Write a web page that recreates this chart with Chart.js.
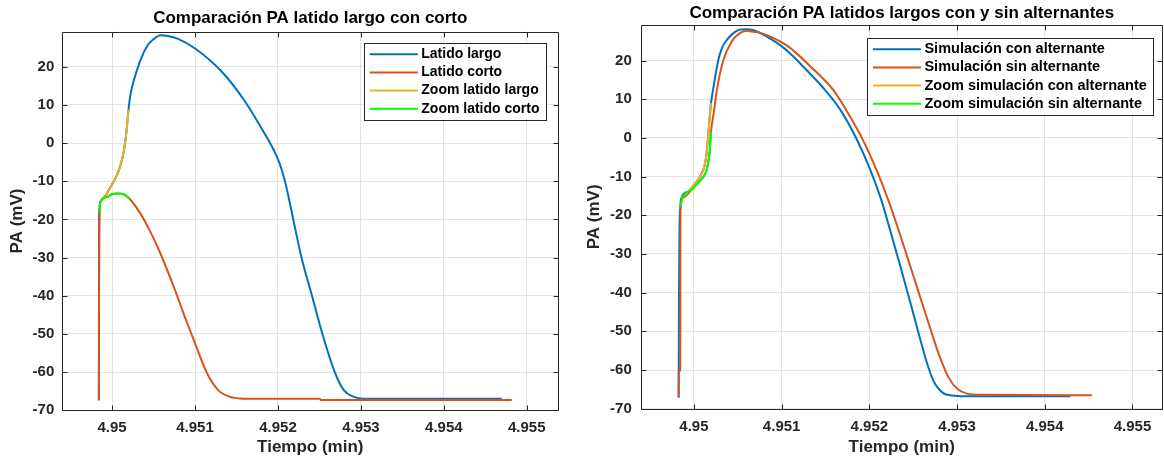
<!DOCTYPE html>
<html>
<head>
<meta charset="utf-8">
<script src="https://cdn.jsdelivr.net/npm/chart.js@4.4.1/dist/chart.umd.min.js"></script>
<style>
  html, body { margin: 0; padding: 0; background: #fff; }
  #panel { position: relative; width: 1164px; height: 459px; overflow: hidden; background: #fff; }
  canvas { position: absolute; top: 0; }
  #graficoIzq { left: 0; }
  #graficoDer { left: 582px; }
</style>
</head>
<body>
<div id="panel">
  <canvas id="graficoIzq" width="582" height="459"></canvas>
  <canvas id="graficoDer" width="582" height="459"></canvas>
</div>
<script>
// ---------- Texto ----------
const tituloIzq = 'Comparación PA latido largo con corto';
const tituloDer = 'Comparación PA latidos largos con y sin alternantes';
const etiquetaX = 'Tiempo (min)';
const etiquetaY = 'PA (mV)';
const leyendaIzq = ['Latido largo', 'Latido corto', 'Zoom latido largo', 'Zoom latido corto'];
const leyendaDer = ['Simulación con alternante', 'Simulación sin alternante',
                    'Zoom simulación con alternante', 'Zoom simulación sin alternante'];

// ---------- Ejes ----------
const ticksTiempo = [4.95, 4.951, 4.952, 4.953, 4.954, 4.955];
const etiquetasTiempo = ['4.95', '4.951', '4.952', '4.953', '4.954', '4.955'];
const ticksPA = [-70, -60, -50, -40, -30, -20, -10, 0, 10, 20];
const etiquetasPA = ['-70', '-60', '-50', '-40', '-30', '-20', '-10', '0', '10', '20'];

// ---------- Latido largo vs corto (tiempo en min, PA en mV) ----------
const tLargo = [4.949841, 4.949843, 4.949846, 4.949859, 4.949924, 4.949984, 4.950033, 4.950074,
  4.950105, 4.950129, 4.950153, 4.950171, 4.950198, 4.950220, 4.950252, 4.950341, 4.950431,
  4.950503, 4.950586, 4.950672, 4.950788, 4.951001, 4.951324, 4.951591, 4.951815, 4.951949,
  4.952023, 4.952096, 4.952156, 4.952204, 4.952283, 4.952417, 4.952529, 4.952685, 4.952796,
  4.952908, 4.952997, 4.953200, 4.954698];
const vLargo = [-67.4, -30, -18, -15.4, -13.6, -11.4, -9.5, -7.6,
  -5.5, -3.5, -0.5, 2.5, 8.8, 12.5, 15.6, 21.7, 25.7,
  27.3, 28.3, 28.1, 27.4, 24.8, 18.7, 11.3, 3.4, -1.8,
  -5.5, -11.0, -17.0, -22.0, -29.9, -40.5, -49.5, -60.0, -64.8,
  -66.4, -66.9, -67.0, -67.0];

const tCorto = [4.949841, 4.949843, 4.949846, 4.949850, 4.949859, 4.949940, 4.949996, 4.950064,
  4.950140, 4.950208, 4.950341, 4.950452, 4.950565, 4.950743, 4.950877, 4.951001, 4.951145,
  4.951279, 4.951413, 4.951547, 4.951722, 4.952506, 4.952515, 4.954819];
const vCorto = [-67.3, -40, -25.4, -18.0, -15.4, -14.1, -13.4, -13.2,
  -13.4, -14.5, -18.4, -22.8, -28.0, -37.6, -45.5, -52.5, -60.3,
  -64.7, -66.4, -66.9, -67.0, -67.0, -67.3, -67.3];

const tZoomLargo = [4.949859, 4.949924, 4.949984, 4.950033, 4.950074, 4.950105, 4.950129,
  4.950153, 4.950171, 4.950198];
const vZoomLargo = [-15.4, -13.6, -11.4, -9.5, -7.6, -5.5, -3.5, -0.5, 2.5, 8.8];

const tZoomCorto = [4.949850, 4.949859, 4.949940, 4.949996, 4.950064, 4.950140, 4.950208];
const vZoomCorto = [-18.0, -15.4, -14.1, -13.4, -13.2, -13.4, -14.5];

// ---------- Latidos largos con / sin alternante ----------
const tConAlt = [4.949826, 4.949830, 4.949835, 4.949845, 4.949855, 4.949932, 4.950017, 4.950080,
  4.950123, 4.950144, 4.950165, 4.950187, 4.950195, 4.950220, 4.950277, 4.950319, 4.950373,
  4.950487, 4.950581, 4.950676, 4.950775, 4.950889, 4.951006, 4.951128, 4.951248, 4.951460,
  4.951672, 4.951842, 4.952012, 4.952139, 4.952224, 4.952351, 4.952479, 4.952563, 4.952649,
  4.952733, 4.952839, 4.952945, 4.953089, 4.954293];
const vConAlt = [-67.2, -40, -24, -18, -15.6, -13.9, -11.7, -9.6,
  -7.0, -4.0, 1.2, 7.2, 9.0, 12.7, 20.0, 23.2, 25.3,
  27.7, 28.1, 27.9, 26.9, 25.4, 23.6, 21.2, 18.4, 13.3,
  7.2, 0.3, -8.3, -16.2, -22.8, -33.0, -43.5, -50.6, -57.6,
  -62.9, -65.9, -66.6, -66.8, -66.8];

const tSinAlt = [4.949826, 4.949827, 4.949844, 4.949846, 4.949847, 4.949868, 4.949974, 4.950059,
  4.950144, 4.950178, 4.950195, 4.950229, 4.950259, 4.950334, 4.950430, 4.950524, 4.950611,
  4.950658, 4.950739, 4.950908, 4.951078, 4.951332, 4.951588, 4.951757, 4.951927, 4.952097,
  4.952224, 4.952330, 4.952436, 4.952563, 4.952691, 4.952797, 4.952903, 4.953009, 4.953115,
  4.953243, 4.954537];
const vSinAlt = [-66.9, -60.4, -60.0, -23.8, -17.8, -15.6, -13.4, -11.3,
  -8.3, -4.0, 1.6, 7.0, 12.0, 20.0, 24.9, 27.1, 27.7,
  27.5, 27.3, 25.8, 23.6, 18.4, 12.4, 6.4, -0.5, -9.1,
  -16.6, -23.6, -31.0, -40.0, -49.0, -56.2, -61.9, -65.0, -66.1,
  -66.4, -66.5];

const tZoomCon = [4.949855, 4.949932, 4.950017, 4.950080, 4.950123, 4.950144, 4.950165, 4.950187, 4.950195];
const vZoomCon = [-15.6, -13.9, -11.7, -9.6, -7.0, -4.0, 1.2, 7.2, 9.0];

const tZoomSin = [4.949847, 4.949868, 4.949974, 4.950059, 4.950144, 4.950178, 4.950195];
const vZoomSin = [-17.8, -15.6, -13.4, -11.3, -8.3, -4.0, 1.6];

// ---------- Estilo ----------
const AZUL = '#0072BD', NARANJA = '#D95319', AMARILLO = '#EDB120', VERDE = '#00FF00';
const FUENTE = "'Liberation Sans', Arial, Helvetica, sans-serif";
const GRIS_EJE = '#262626';

const puntos = (t, v) => t.map((x, i) => ({ x, y: v[i] }));

function serie(label, t, v, color, orden) {
  return {
    label, data: puntos(t, v), borderColor: color, backgroundColor: color,
    borderWidth: 2, showLine: true, pointRadius: 0, pointHoverRadius: 0,
    cubicInterpolationMode: 'monotone', order: orden, clip: 2
  };
}

// caja de ejes con marcas hacia dentro en los cuatro lados
const marcoEjes = {
  id: 'marcoEjes',
  afterDatasetsDraw(chart) {
    const { ctx, chartArea: a, scales: { x, y } } = chart;
    const px = v => Math.round(v) + 0.5;
    const L = 5;
    ctx.save();
    ctx.strokeStyle = GRIS_EJE;
    ctx.lineWidth = 1;
    ctx.beginPath();
    const l = px(a.left), r = px(a.right), tp = px(a.top), b = px(a.bottom);
    ctx.moveTo(l, tp); ctx.lineTo(r, tp); ctx.lineTo(r, b); ctx.lineTo(l, b); ctx.closePath();
    x.ticks.forEach(t => {
      const p = px(x.getPixelForValue(t.value));
      ctx.moveTo(p, b); ctx.lineTo(p, b - L);
      ctx.moveTo(p, tp); ctx.lineTo(p, tp + L);
    });
    y.ticks.forEach(t => {
      const p = px(y.getPixelForValue(t.value));
      ctx.moveTo(l, p); ctx.lineTo(l + L, p);
      ctx.moveTo(r, p); ctx.lineTo(r - L, p);
    });
    ctx.stroke();
    ctx.restore();
  }
};

// leyenda con recuadro en la esquina superior derecha del área de ejes
const leyendaRecuadro = {
  id: 'leyendaRecuadro',
  afterDraw(chart, args, o) {
    const { ctx, chartArea: a } = chart;
    const ds = chart.data.datasets;
    ctx.save();
    ctx.font = o.font;
    const textW = Math.max(...ds.map(d => ctx.measureText(d.label).width));
    const w = o.padLeft + o.lineLen + o.gap + textW + o.padRight;
    const h = o.height;
    const right = a.right - o.insetRight;
    const top = a.top + o.insetTop;
    const left = right - w;
    ctx.fillStyle = '#fff';
    ctx.fillRect(left, top, w, h);
    ctx.strokeStyle = GRIS_EJE;
    ctx.lineWidth = 1;
    ctx.strokeRect(Math.round(left) + 0.5, Math.round(top) + 0.5, Math.round(w), Math.round(h));
    ds.forEach((d, i) => {
      const cy = top + o.firstRow + i * o.rowH;
      ctx.strokeStyle = d.borderColor;
      ctx.lineWidth = 2;
      ctx.beginPath();
      ctx.moveTo(left + o.padLeft, cy);
      ctx.lineTo(left + o.padLeft + o.lineLen, cy);
      ctx.stroke();
      ctx.fillStyle = '#000';
      ctx.textBaseline = 'middle';
      ctx.textAlign = 'left';
      ctx.fillText(d.label, left + o.padLeft + o.lineLen + o.gap, cy);
    });
    ctx.restore();
  }
};

function opciones(cfg) {
  return {
    responsive: false,
    animation: false,
    devicePixelRatio: 1,
    events: [],
    layout: { padding: { left: 0, right: cfg.padRight, top: 0, bottom: 0 } },
    plugins: {
      legend: { display: false },
      tooltip: { enabled: false },
      title: {
        display: true, text: cfg.titulo, fullSize: false, color: '#000',
        font: { family: FUENTE, size: 17, weight: 'bold', lineHeight: 1.2 },
        padding: { top: cfg.tituloTop, bottom: cfg.tituloBottom }
      },
      leyendaRecuadro: Object.assign({
        font: 'bold ' + cfg.leyendaFuente + 'px ' + FUENTE,
        padLeft: 5.5, lineLen: 48, gap: 3.5, padRight: 6.5,
        firstRow: 11.5, rowH: 18.2, height: 76.6
      }, cfg.leyenda)
    },
    scales: {
      x: {
        type: 'linear', min: cfg.xMin, max: cfg.xMax,
        afterBuildTicks: s => { s.ticks = ticksTiempo.map(value => ({ value })); },
        afterFit: s => { s.height = cfg.altoX; },
        ticks: {
          color: GRIS_EJE, padding: cfg.padTickX, maxRotation: 0, autoSkip: false,
          font: { family: FUENTE, size: 15, weight: 'bold', lineHeight: 1.2 },
          callback: v => etiquetasTiempo[ticksTiempo.indexOf(v)]
        },
        grid: { color: '#e3e3e3', lineWidth: 1, drawTicks: false },
        border: { display: false },
        title: {
          display: true, text: etiquetaX, color: GRIS_EJE,
          font: { family: FUENTE, size: 17, weight: 'bold', lineHeight: 1.2 },
          padding: { top: 0, bottom: 1.3 }
        }
      },
      y: {
        type: 'linear', min: -70, max: 29.2,
        afterBuildTicks: s => { s.ticks = ticksPA.map(value => ({ value })); },
        afterFit: s => { s.width = cfg.anchoY; },
        ticks: {
          color: GRIS_EJE, padding: cfg.padTickY, autoSkip: false,
          font: { family: FUENTE, size: 15, weight: 'bold', lineHeight: 1.2 },
          callback: v => etiquetasPA[ticksPA.indexOf(v)]
        },
        grid: { color: '#e3e3e3', lineWidth: 1, drawTicks: false },
        border: { display: false },
        title: {
          display: true, text: etiquetaY, color: GRIS_EJE,
          font: { family: FUENTE, size: 17, weight: 'bold', lineHeight: 1.2 },
          padding: { top: cfg.padTituloY, bottom: 0 }
        }
      }
    }
  };
}

new Chart(document.getElementById('graficoIzq'), {
  type: 'scatter',
  data: {
    datasets: [
      serie(leyendaIzq[0], tLargo, vLargo, AZUL, 3),
      serie(leyendaIzq[1], tCorto, vCorto, NARANJA, 2),
      serie(leyendaIzq[2], tZoomLargo, vZoomLargo, AMARILLO, 1),
      serie(leyendaIzq[3], tZoomCorto, vZoomCorto, VERDE, 0)
    ]
  },
  options: opciones({
    titulo: tituloIzq, padRight: 23.7, tituloTop: 7.8, tituloBottom: 3.5,
    xMin: 4.9494, xMax: 4.95538, altoX: 48.7, padTickX: 8.7,
    anchoY: 62.3, padTickY: 8, padTituloY: 7.3,
    leyendaFuente: 14, leyenda: { insetRight: 12.3, insetTop: 11 }
  }),
  plugins: [marcoEjes, leyendaRecuadro]
});

new Chart(document.getElementById('graficoDer'), {
  type: 'scatter',
  data: {
    datasets: [
      serie(leyendaDer[0], tConAlt, vConAlt, AZUL, 3),
      serie(leyendaDer[1], tSinAlt, vSinAlt, NARANJA, 2),
      serie(leyendaDer[2], tZoomCon, vZoomCon, AMARILLO, 1),
      serie(leyendaDer[3], tZoomSin, vZoomSin, VERDE, 0)
    ]
  },
  options: opciones({
    titulo: tituloDer, padRight: 1.7, tituloTop: 2.8, tituloBottom: 1.8,
    xMin: 4.9494, xMax: 4.95534, altoX: 50.3, padTickX: 9.3,
    anchoY: 59.3, padTickY: 9.5, padTituloY: 2.4,
    leyendaFuente: 14.5, leyenda: { insetRight: 9, insetTop: 12.7 }
  }),
  plugins: [marcoEjes, leyendaRecuadro]
});
</script>
</body>
</html>
